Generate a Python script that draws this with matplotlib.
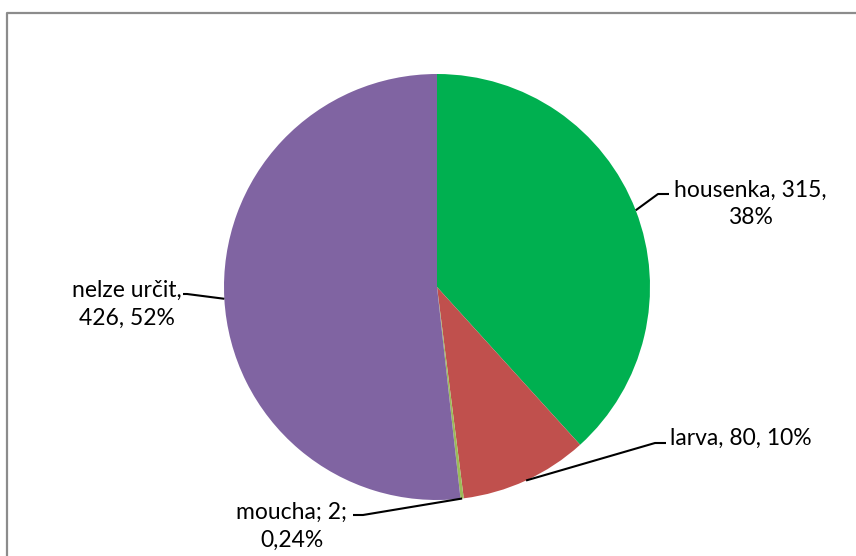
import numpy as np
import matplotlib
matplotlib.use("Agg")
import matplotlib.pyplot as plt
from matplotlib.lines import Line2D

categories = ["housenka", "larva", "moucha", "nelze určit"]
values = [315, 80, 2, 426]
label_texts = ["housenka, 315,\n38%", "larva, 80, 10%", "moucha; 2;\n0,24%", "nelze určit,\n426, 52%"]
colors = ["#00B050", "#C0504D", "#9BBB59", "#8064A2"]

W, H = 856, 556
fig = plt.figure(figsize=(W / 100, H / 100), dpi=100)
ax = fig.add_axes([0, 0, 1, 1])

cx, cy, r = 437, H - 287, 213
wedges, _ = ax.pie(values, colors=colors, startangle=90, counterclock=False,
                   center=(cx, cy), radius=r, frame=True,
                   wedgeprops=dict(linewidth=0))
ax.set_xlim(0, W)
ax.set_ylim(0, H)
ax.set_aspect("equal")
ax.axis("off")

# label layout (pixel positions of elbow, end, text anchor)
layout = [
    dict(elbow=(658, 194), end=(669, 194), text=(750, 204), ha="center"),
    dict(elbow=(655, 443), end=(666, 443), text=(670, 438), ha="left"),
    dict(elbow=(363, 515), end=(353, 515), text=(292, 526), ha="center"),
    dict(elbow=(187, 294), end=(183, 294), text=(127, 304), ha="center"),
]

for w, lab, lay in zip(wedges, label_texts, layout):
    mid = np.deg2rad((w.theta1 + w.theta2) / 2)
    sx, sy = cx + r * np.cos(mid), cy + r * np.sin(mid)
    ex, ey = lay["elbow"]
    nx, ny = lay["end"]
    ax.plot([sx, ex, nx], [sy, H - ey, H - ny], color="black", lw=1.5,
            solid_capstyle="butt")
    ax.text(lay["text"][0], H - lay["text"][1], lab, ha=lay["ha"], va="center",
            fontsize=16.5, family=["Lato", "DejaVu Sans"], color="black",
            linespacing=1.4)

# chart-area border (left and top visible)
fig.add_artist(Line2D([7.5 / W, 7.5 / W, 1.0], [0, 1 - 12.5 / H, 1 - 12.5 / H],
                      transform=fig.transFigure, color="#8c8c8c", lw=1.6))

fig.savefig("out.png", dpi=100)
